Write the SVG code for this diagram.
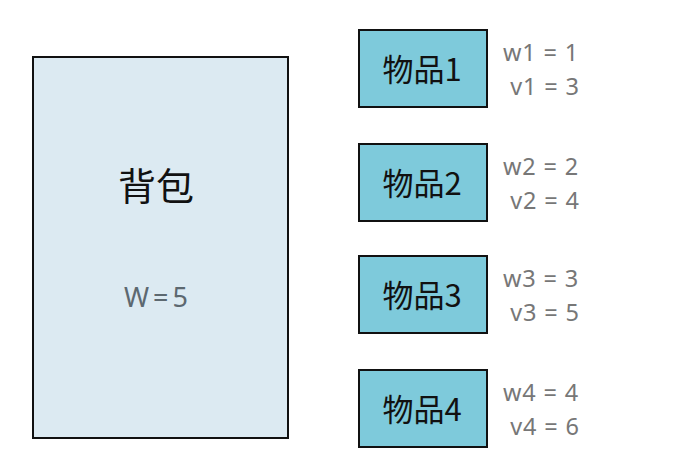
<svg xmlns="http://www.w3.org/2000/svg" width="674" height="471" viewBox="0 0 674 471">
<style>
.box{fill:#7ecadb;stroke:#111;stroke-width:2}
.lbl{font-family:"Noto Sans CJK SC","Noto Sans",sans-serif;font-size:31px;fill:#111;text-anchor:middle}
.val{font-family:"Noto Sans","Noto Sans CJK SC",sans-serif;font-size:23.5px;fill:#777;text-anchor:middle;white-space:pre;letter-spacing:0.8px}
</style>
<rect width="674" height="471" fill="#fff"/>
<g id="bag">
<rect x="33" y="57" width="255" height="381" fill="#dceaf2" stroke="#111" stroke-width="2"/>
<text x="156" y="200" font-family="'Noto Sans CJK SC',sans-serif" font-size="38" fill="#111" text-anchor="middle">背包</text>
<text x="158" y="307" font-family="'Noto Sans','Noto Sans CJK SC',sans-serif" font-size="27" fill="#5c6870" text-anchor="middle" letter-spacing="4">W=5</text>
</g>
<g id="item1">
<rect class="box" x="359" y="30" width="128" height="77"/>
<text class="lbl" x="422" y="81">物品1</text>
<text class="val" x="541" y="61">w1 = 1</text>
<text class="val" x="545" y="95">v1 = 3</text>
</g>
<g id="item2">
<rect class="box" x="359" y="144" width="128" height="77"/>
<text class="lbl" x="422" y="195">物品2</text>
<text class="val" x="541" y="175">w2 = 2</text>
<text class="val" x="545" y="209">v2 = 4</text>
</g>
<g id="item3">
<rect class="box" x="359" y="256" width="128" height="77"/>
<text class="lbl" x="422" y="307">物品3</text>
<text class="val" x="541" y="287">w3 = 3</text>
<text class="val" x="545" y="321">v3 = 5</text>
</g>
<g id="item4">
<rect class="box" x="359" y="370" width="128" height="77"/>
<text class="lbl" x="422" y="421">物品4</text>
<text class="val" x="541" y="401">w4 = 4</text>
<text class="val" x="545" y="435">v4 = 6</text>
</g>
<g id="connectors"/>
</svg>
